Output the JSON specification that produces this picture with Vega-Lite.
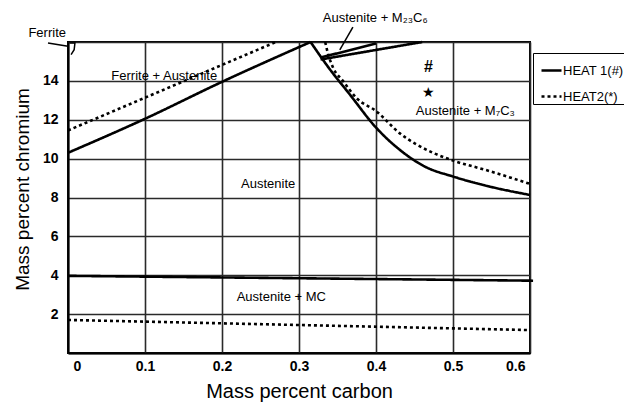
{
  "$schema": "https://vega.github.io/schema/vega-lite/v6.json",
  "width": 462,
  "height": 311,
  "autosize": {"type": "none"},
  "padding": {"left": 68, "top": 42, "right": 94, "bottom": 49},
  "background": "white",
  "config": {
    "view": {"stroke": "black", "strokeWidth": 2},
    "font": "Liberation Sans",
    "axis": {
      "grid": true,
      "gridColor": "#2a2a2a",
      "gridWidth": 1.6,
      "gridOpacity": 1,
      "domainColor": "black",
      "domainWidth": 2,
      "ticks": false,
      "labelFont": "Liberation Sans",
      "labelFontWeight": "bold",
      "labelFontSize": 14,
      "labelColor": "black",
      "titleFont": "Liberation Sans",
      "titleFontWeight": "normal",
      "titleColor": "black"
    }
  },
  "datasets": {
    "lines": [
      {"heat": "HEAT 1(#)", "seg": "a1", "i": 1, "c": 0, "cr": 10.3},
      {"heat": "HEAT 1(#)", "seg": "a1", "i": 2, "c": 0.1, "cr": 12.05},
      {"heat": "HEAT 1(#)", "seg": "a1", "i": 3, "c": 0.2, "cr": 13.95},
      {"heat": "HEAT 1(#)", "seg": "a1", "i": 4, "c": 0.315, "cr": 16},
      {"heat": "HEAT 1(#)", "seg": "a2", "i": 1, "c": 0.315, "cr": 16},
      {"heat": "HEAT 1(#)", "seg": "a2", "i": 2, "c": 0.34, "cr": 14.6},
      {"heat": "HEAT 1(#)", "seg": "a2", "i": 3, "c": 0.366, "cr": 13.3},
      {"heat": "HEAT 1(#)", "seg": "a2", "i": 4, "c": 0.4, "cr": 11.6},
      {"heat": "HEAT 1(#)", "seg": "a2", "i": 5, "c": 0.431, "cr": 10.45},
      {"heat": "HEAT 1(#)", "seg": "a2", "i": 6, "c": 0.464, "cr": 9.58},
      {"heat": "HEAT 1(#)", "seg": "a2", "i": 7, "c": 0.5, "cr": 9.08},
      {"heat": "HEAT 1(#)", "seg": "a2", "i": 8, "c": 0.548, "cr": 8.56},
      {"heat": "HEAT 1(#)", "seg": "a2", "i": 9, "c": 0.6, "cr": 8.13},
      {"heat": "HEAT 1(#)", "seg": "a3", "i": 1, "c": 0.328, "cr": 15.2},
      {"heat": "HEAT 1(#)", "seg": "a3", "i": 2, "c": 0.4, "cr": 15.92},
      {"heat": "HEAT 1(#)", "seg": "a4", "i": 1, "c": 0.328, "cr": 15.1},
      {"heat": "HEAT 1(#)", "seg": "a4", "i": 2, "c": 0.46, "cr": 16},
      {"heat": "HEAT 1(#)", "seg": "a5", "i": 1, "c": 0, "cr": 3.97},
      {"heat": "HEAT 1(#)", "seg": "a5", "i": 2, "c": 0.604, "cr": 3.72},
      {"heat": "HEAT2(*)", "seg": "b1", "i": 1, "c": 0, "cr": 11.45},
      {"heat": "HEAT2(*)", "seg": "b1", "i": 2, "c": 0.27, "cr": 16},
      {"heat": "HEAT2(*)", "seg": "b2", "i": 1, "c": 0.334, "cr": 16},
      {"heat": "HEAT2(*)", "seg": "b2", "i": 2, "c": 0.337, "cr": 15.5},
      {"heat": "HEAT2(*)", "seg": "b2", "i": 3, "c": 0.344, "cr": 14.7},
      {"heat": "HEAT2(*)", "seg": "b2", "i": 4, "c": 0.357, "cr": 14.0},
      {"heat": "HEAT2(*)", "seg": "b2", "i": 5, "c": 0.375, "cr": 13.1},
      {"heat": "HEAT2(*)", "seg": "b2", "i": 6, "c": 0.4, "cr": 12.45},
      {"heat": "HEAT2(*)", "seg": "b2", "i": 7, "c": 0.431, "cr": 11.3},
      {"heat": "HEAT2(*)", "seg": "b2", "i": 8, "c": 0.474, "cr": 10.3},
      {"heat": "HEAT2(*)", "seg": "b2", "i": 9, "c": 0.5, "cr": 9.9},
      {"heat": "HEAT2(*)", "seg": "b2", "i": 10, "c": 0.544, "cr": 9.4},
      {"heat": "HEAT2(*)", "seg": "b2", "i": 11, "c": 0.6, "cr": 8.7},
      {"heat": "HEAT2(*)", "seg": "b3", "i": 1, "c": 0, "cr": 1.7},
      {"heat": "HEAT2(*)", "seg": "b3", "i": 2, "c": 0.6, "cr": 1.18}
    ],
    "pointers": [
      {"seg": "p1", "i": 1, "c": -0.026, "cr": 15.95},
      {"seg": "p1", "i": 2, "c": 0.0, "cr": 15.78},
      {"seg": "p2", "i": 1, "c": 0.37, "cr": 16.77},
      {"seg": "p2", "i": 2, "c": 0.353, "cr": 15.6},
      {"seg": "p3", "i": 1, "c": 0.002, "cr": 15.95},
      {"seg": "p3", "i": 2, "c": 0.009, "cr": 15.95},
      {"seg": "p3", "i": 3, "c": 0.008, "cr": 15.6},
      {"seg": "p3", "i": 4, "c": 0.004, "cr": 15.35}
    ],
    "labels": [
      {"t": "Ferrite", "c": -0.027, "cr": 16.45},
      {"t": "Ferrite + Austenite", "c": 0.125, "cr": 14.25},
      {"t": "Austenite", "c": 0.26, "cr": 8.7},
      {"t": "Austenite + MC", "c": 0.277, "cr": 2.88},
      {"t": "Austenite + M₂₃C₆", "c": 0.399, "cr": 17.25},
      {"t": "Austenite + M₇C₃", "c": 0.516, "cr": 12.45}
    ],
    "hash": [{"t": "#", "c": 0.468, "cr": 14.7}],
    "star": [{"t": "★", "c": 0.468, "cr": 13.4}]
  },
  "encoding": {
    "x": {
      "field": "c",
      "type": "quantitative",
      "scale": {"domain": [0, 0.6], "nice": false, "zero": false},
      "axis": {
        "title": "Mass percent carbon",
        "titleFontSize": 20,
        "titlePadding": 8,
        "values": [0, 0.1, 0.2, 0.3, 0.4, 0.5, 0.6],
        "format": ".1~f",
        "labelPadding": 6,
        "labelFlush": true,
        "labelFlushOffset": -5
      }
    },
    "y": {
      "field": "cr",
      "type": "quantitative",
      "scale": {"domain": [0, 16], "nice": false, "zero": false},
      "axis": {
        "title": "Mass percent chromium",
        "titleFontSize": 19,
        "titlePadding": 10,
        "titleY": 147,
        "values": [0, 2, 4, 6, 8, 10, 12, 14, 16],
        "labelExpr": "datum.value == 0 || datum.value == 16 ? '' : datum.label",
        "labelPadding": 10
      }
    }
  },
  "layer": [
    {
      "data": {"name": "lines"},
      "mark": {"type": "line", "color": "black", "strokeWidth": 2.6, "interpolate": "monotone", "clip": false},
      "encoding": {
        "detail": {"field": "seg", "type": "nominal"},
        "order": {"field": "i", "type": "quantitative"},
        "strokeDash": {
          "field": "heat",
          "type": "nominal",
          "scale": {"domain": ["HEAT 1(#)", "HEAT2(*)"], "range": [[1, 0], [3, 3]]},
          "legend": {
            "orient": "none",
            "legendX": 465,
            "legendY": 11,
            "title": " ",
            "titleFontSize": 6,
            "titlePadding": 0,
            "strokeColor": "black",
            "padding": 0,
            "symbolType": "stroke",
            "symbolSize": 400,
            "symbolStrokeWidth": 2.6,
            "symbolStrokeColor": "black",
            "symbolOffset": 7,
            "labelFont": "Liberation Sans",
            "labelFontSize": 13,
            "labelColor": "black",
            "labelOffset": 0,
            "rowPadding": 7
          }
        }
      }
    },
    {
      "data": {"name": "pointers"},
      "mark": {"type": "line", "color": "black", "strokeWidth": 1.5, "clip": false},
      "encoding": {
        "detail": {"field": "seg", "type": "nominal"},
        "order": {"field": "i", "type": "quantitative"}
      }
    },
    {
      "data": {"name": "labels"},
      "mark": {"type": "text", "fontSize": 13, "color": "black", "font": "Liberation Sans"},
      "encoding": {"text": {"field": "t", "type": "nominal"}}
    },
    {
      "data": {"name": "hash"},
      "mark": {"type": "text", "fontSize": 16, "fontWeight": "bold", "color": "black", "font": "Liberation Sans"},
      "encoding": {"text": {"field": "t", "type": "nominal"}}
    },
    {
      "data": {"name": "star"},
      "mark": {"type": "text", "fontSize": 14, "color": "black", "font": "DejaVu Sans"},
      "encoding": {"text": {"field": "t", "type": "nominal"}}
    }
  ]
}
